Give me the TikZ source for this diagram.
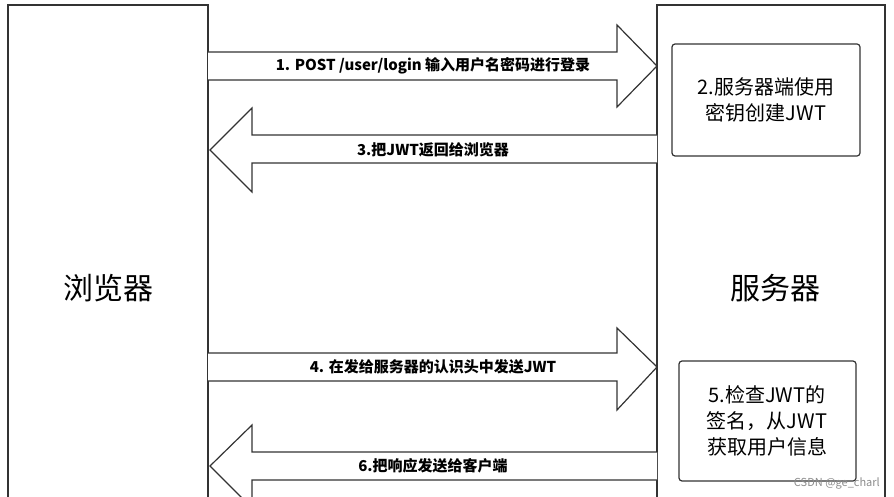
\documentclass[tikz,border=0pt]{standalone}
\usepackage{fontspec}
\setmainfont{Noto Sans CJK SC}
\begin{document}
\begin{tikzpicture}[x=1pt,y=-1pt,
  line/.style={draw=black!80,line width=1.2pt},
  arr/.style={line,fill=white,line join=miter},
  lbl/.style={font=\bfseries\fontsize{15}{18}\selectfont,inner sep=0pt},
  info/.style={line,rounded corners=3pt,font=\fontsize{20}{26}\selectfont,align=center,inner sep=0pt}]
\useasboundingbox (0,0) rectangle (894,497);
\clip (0,0) rectangle (894,497);
\fill[white] (0,0) rectangle (894,497);
\draw[line] (8,520) -- (8,5) -- (208,5) -- (208,520);
\draw[line] (657,520) -- (657,5) -- (885,5) -- (885,520);
\node[font=\fontsize{30}{36}\selectfont] (browser) at (108,288) {浏览器};
\node[font=\fontsize{30}{36}\selectfont] (server) at (775,288) {服务器};
% arrow 1
\draw[arr] (208,52) -- (617,52) -- (617,25) -- (657,66) -- (617,107) -- (617,80) -- (208,80);
\node[lbl] (a1) at (433,66) {1. POST /user/login 输入用户名密码进行登录};
% arrow 3
\draw[arr] (657,135) -- (252,135) -- (252,108) -- (210,150) -- (252,192) -- (252,163) -- (657,163);
\node[lbl] (a3) at (433,150) {3.把JWT返回给浏览器};
% arrow 4
\draw[arr] (208,353) -- (617,353) -- (617,328) -- (657,367) -- (617,410) -- (617,381) -- (208,381);
\node[lbl] (a4) at (433,367) {4. 在发给服务器的认识头中发送JWT};
% arrow 6
\draw[arr] (657,452) -- (252,452) -- (252,425) -- (210,466) -- (252,508) -- (252,480) -- (657,480);
\node[lbl] (a6) at (433,466) {6.把响应发送给客户端};
% boxes
\draw[line,rounded corners=3pt] (672,44) rectangle (860,156);
\node[font=\fontsize{20}{26}\selectfont,align=center] (b2) at (766,100) {2.服务器端使用\\密钥创建JWT};
\draw[line,rounded corners=3pt] (679,361) rectangle (856,481);
\node[font=\fontsize{20}{26}\selectfont,align=center] (b5) at (767,421) {5.检查JWT的\\签名，从JWT\\获取用户信息};
\node[font=\fontsize{11}{12}\selectfont,text=black!45,anchor=east,inner sep=0pt] (wm) at (880,483) {CSDN @ge\_charl};
\end{tikzpicture}
\end{document}
